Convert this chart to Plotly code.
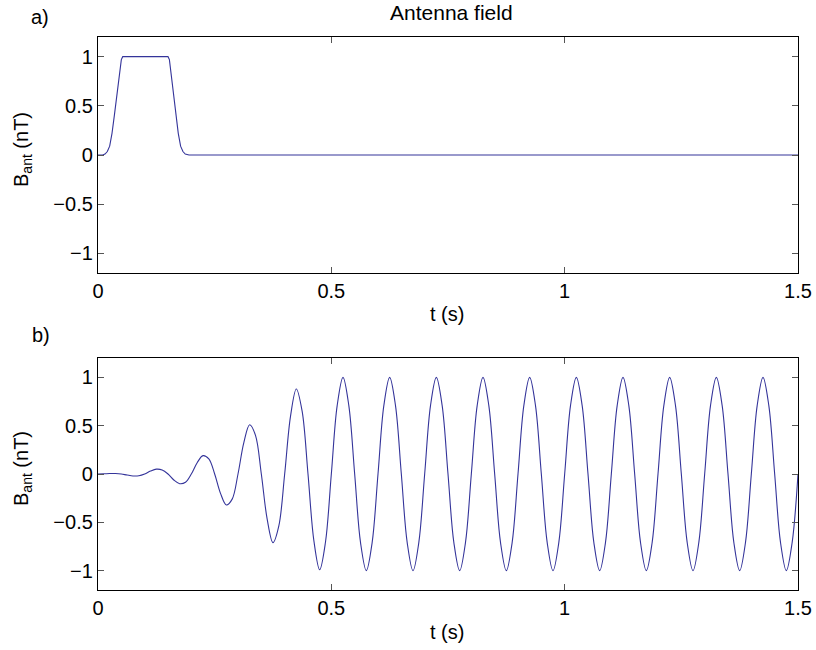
import plotly.graph_objects as go
from plotly.subplots import make_subplots

# ---- Panel a) antenna field pulse (read from picture) ----
t_pulse = [0.0, 0.010, 0.015, 0.020, 0.025, 0.030, 0.035, 0.040, 0.045, 0.050, 0.053,
           0.150, 0.153, 0.157, 0.162, 0.167, 0.172, 0.177, 0.182, 0.187, 0.195, 1.5]
b_pulse = [0.0, 0.0, 0.01, 0.035, 0.09, 0.22, 0.40, 0.61, 0.82, 0.97, 1.0,
           1.0, 0.97, 0.82, 0.61, 0.40, 0.22, 0.09, 0.035, 0.01, 0.0, 0.0]

# ---- Panel b) oscillating field: values read every 1/8 period (0.0125 s) ----
t_step = 0.0125
b_osc = [
    # 0.0 - 0.5 s : growing oscillation
    0.0, 0.002, 0.005, 0.005, 0.0, -0.011, -0.02, -0.018,
    0.0, 0.030, 0.05, 0.042, 0.0, -0.062, -0.10, -0.085,
    0.0, 0.117, 0.19, 0.156, 0.0, -0.20, -0.32, -0.26,
    0.0, 0.325, 0.51, 0.40, 0.0, -0.467, -0.71, -0.537,
    0.0, 0.597, 0.88, 0.647, 0.0, -0.686, -0.99, -0.703,
    # 0.5 - 1.5 s : steady oscillation, amplitude 1
    0.0, 0.707, 1.0, 0.707, 0.0, -0.707, -1.0, -0.707,
    0.0, 0.707, 1.0, 0.707, 0.0, -0.707, -1.0, -0.707,
    0.0, 0.707, 1.0, 0.707, 0.0, -0.707, -1.0, -0.707,
    0.0, 0.707, 1.0, 0.707, 0.0, -0.707, -1.0, -0.707,
    0.0, 0.707, 1.0, 0.707, 0.0, -0.707, -1.0, -0.707,
    0.0, 0.707, 1.0, 0.707, 0.0, -0.707, -1.0, -0.707,
    0.0, 0.707, 1.0, 0.707, 0.0, -0.707, -1.0, -0.707,
    0.0, 0.707, 1.0, 0.707, 0.0, -0.707, -1.0, -0.707,
    0.0, 0.707, 1.0, 0.707, 0.0, -0.707, -1.0, -0.707,
    0.0, 0.707, 1.0, 0.707, 0.0, -0.707, -1.0, -0.707,
    0.0,
]
t_osc = [round(i * t_step, 4) for i in range(len(b_osc))]

x_ticks = [0, 0.5, 1, 1.5]
x_ticklabels = ["0", "0.5", "1", "1.5"]
y_ticks = [-1, -0.5, 0, 0.5, 1]
y_ticklabels = ["\u22121", "\u22120.5", "0", "0.5", "1"]

FONT = "Liberation Sans, Arial, Helvetica, sans-serif"
LINE = "#34349a"

fig = make_subplots(rows=2, cols=1)
fig.add_trace(go.Scatter(x=t_pulse, y=b_pulse, mode="lines",
                         line=dict(color=LINE, width=1.1), showlegend=False), row=1, col=1)
fig.add_trace(go.Scatter(x=t_osc, y=b_osc, mode="lines",
                         line=dict(color=LINE, width=1.1, shape="spline", smoothing=1.0),
                         showlegend=False), row=2, col=1)

axis_common = dict(showline=True, linecolor="black", linewidth=1.3, mirror="ticks",
                   ticks="inside", ticklen=6, tickcolor="#555", tickwidth=1,
                   showgrid=False, zeroline=False, automargin=False,
                   tickfont=dict(family=FONT, size=20, color="black"))

fig.update_xaxes(range=[0, 1.5], tickvals=x_ticks, ticktext=x_ticklabels, **axis_common)
fig.update_yaxes(range=[-1.2, 1.2], tickvals=y_ticks, ticktext=y_ticklabels, **axis_common)

W, H = 816, 650
L, R, T, B = 98, 18, 37, 60
PH = H - T - B
fig.update_layout(
    xaxis=dict(domain=[0, 1]), xaxis2=dict(domain=[0, 1]),
    yaxis=dict(domain=[1 - (273 - T) / PH, 1.0]),
    yaxis2=dict(domain=[0.0, 1 - (358 - T) / PH]),
)

annotations = [
    dict(text="Antenna field", x=451, y=13, size=21),
    dict(text="a)", x=40, y=17, size=20),
    dict(text="b)", x=41, y=335, size=20),
    dict(text="t (s)", x=447, y=314, size=20),
    dict(text="t (s)", x=447, y=632, size=20),
    dict(text="B<sub>ant</sub> (nT)", x=22, y=150, size=20, textangle=-90),
    dict(text="B<sub>ant</sub> (nT)", x=22, y=469, size=20, textangle=-90),
]
for a in annotations:
    fig.add_annotation(
        text=a["text"],
        x=(a["x"] - L) / (W - L - R), y=1 - (a["y"] - T) / PH,
        xref="paper", yref="paper", showarrow=False,
        xanchor="center", yanchor="middle",
        textangle=a.get("textangle", 0),
        font=dict(family=FONT, size=a["size"], color="black"),
    )

fig.update_layout(
    width=W, height=H,
    margin=dict(l=L, r=R, t=T, b=B, autoexpand=False),
    paper_bgcolor="white", plot_bgcolor="white",
    font=dict(family=FONT, size=20, color="black"),
)

fig.write_html(
    "out.html",
    config={"displayModeBar": False},
    post_script="document.body.style.margin='0';document.body.style.overflow='hidden';",
)
